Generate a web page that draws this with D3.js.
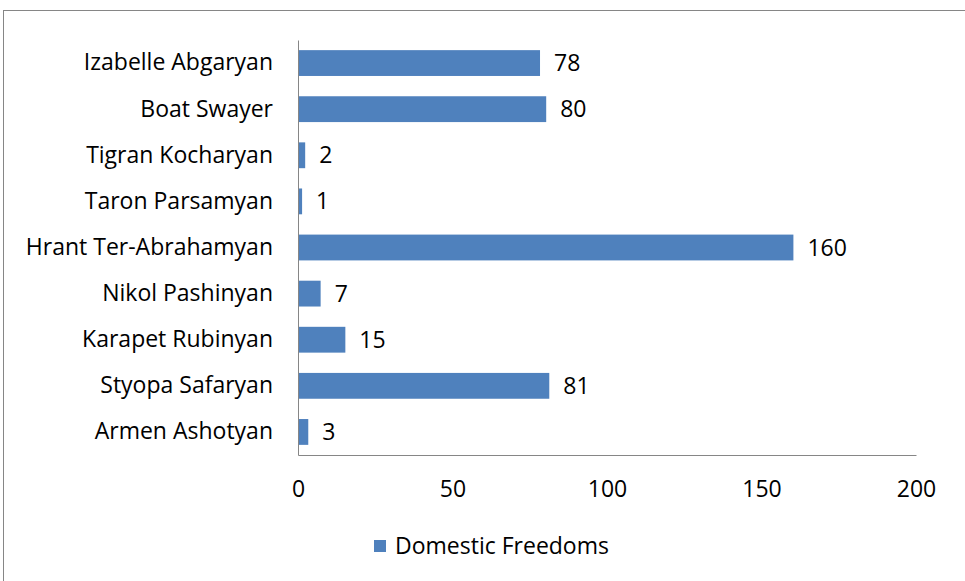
<!DOCTYPE html>
<html>
<head>
<meta charset="utf-8">
<script src="https://cdn.jsdelivr.net/npm/d3@7"></script>
<style>
    body { margin: 0; background: #fff; }
    text { font-family: "Open Sans", "Liberation Sans", sans-serif; fill: #000; }
</style>
</head>
<body>
<div id="chart"></div>
<script>

// Categories, top to bottom as shown
let names = ["Izabelle Abgaryan", "Boat Swayer", "Tigran Kocharyan", "Taron Parsamyan",
    "Hrant Ter-Abrahamyan", "Nikol Pashinyan", "Karapet Rubinyan", "Styopa Safaryan", "Armen Ashotyan"];
let freedoms = [78, 80, 2, 1, 160, 7, 15, 81, 3];
let xTicks = [0, 50, 100, 150, 200];
let seriesName = "Domestic Freedoms";

let chart = {
    width: 965,
    height: 581,
    left: 298, right: 916, top: 40, bottom: 455,
    barColor: "#4F81BD",
    fontSize: 23
};

let svg = d3.select("#chart").append("svg")
    .attr("width", chart.width)
    .attr("height", chart.height);

// Outer chart frame
svg.append("rect")
    .attr("x", 3.5).attr("y", 10.5)
    .attr("width", 1000).attr("height", 700)
    .attr("fill", "none")
    .attr("stroke", "#868686")
    .attr("stroke-width", 1);

let x = d3.scaleLinear()
    .domain([0, 200])
    .range([chart.left, chart.right]);

let y = d3.scaleBand()
    .domain(names)
    .range([chart.top, chart.bottom])
    .paddingInner(0.44)
    .paddingOuter(0.22);

// x axis, labels only
let xAxis = svg.append("g")
    .attr("transform", "translate(0," + chart.bottom + ")")
    .call(d3.axisBottom(x).tickValues(xTicks).tickSize(0).tickPadding(26));
xAxis.select(".domain").attr("stroke", "#868686");
xAxis.selectAll("text").style("font-size", chart.fontSize + "px");

// y axis with category names
let yAxis = svg.append("g")
    .attr("transform", "translate(" + chart.left + ",0)")
    .call(d3.axisLeft(y).tickSize(0).tickPadding(25));
yAxis.select(".domain").attr("stroke", "#868686");
yAxis.selectAll("text").style("font-size", chart.fontSize + "px");

// Bars
let data = names.map(function (n, i) { return {name: n, value: freedoms[i]}; });

svg.append("g")
    .selectAll("rect")
    .data(data)
    .enter()
    .append("rect")
    .attr("x", x(0) + 1)
    .attr("y", function (d) { return y(d.name); })
    .attr("width", function (d) { return x(d.value) - x(0); })
    .attr("height", y.bandwidth())
    .attr("fill", chart.barColor);

// Value labels
svg.append("g")
    .selectAll("text")
    .data(data)
    .enter()
    .append("text")
    .attr("x", function (d) { return x(d.value) + 15; })
    .attr("y", function (d) { return y(d.name) + y.bandwidth() / 2; })
    .attr("dy", "0.35em")
    .style("font-size", chart.fontSize + "px")
    .text(function (d) { return d.value; });

// Legend
let legend = svg.append("g").attr("transform", "translate(374,540)");
legend.append("rect")
    .attr("width", 12).attr("height", 12)
    .attr("fill", chart.barColor);
legend.append("text")
    .attr("x", 21).attr("y", 6)
    .attr("dy", "0.35em")
    .style("font-size", chart.fontSize + "px")
    .text(seriesName);

</script>
</body>
</html>
